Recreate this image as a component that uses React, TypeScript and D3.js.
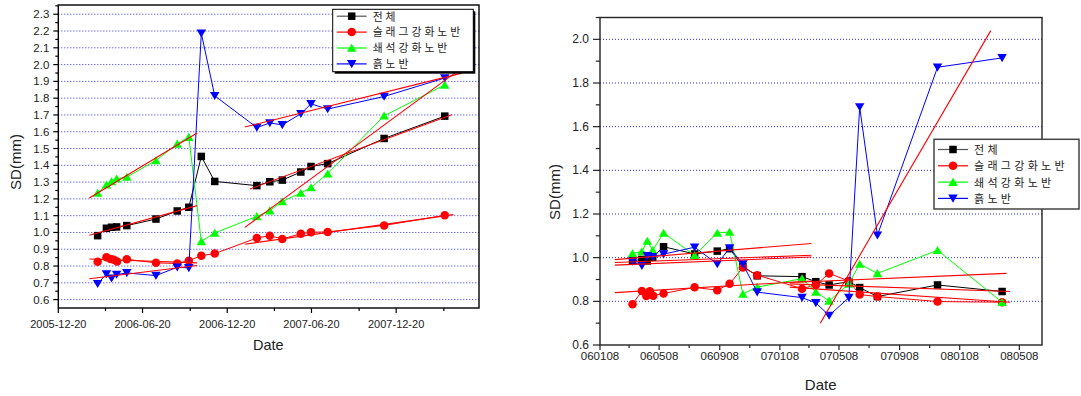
import { useEffect, useRef } from "react";
import * as d3 from "d3";

// Series (legend order)
const seriesNames = ["전체", "슬래그강화노반", "쇄석강화노반", "흙노반"];
const seriesColors = ["#000000", "#ff0000", "#00ff00", "#0000ff"];
const seriesShapes = ["square", "circle", "up", "down"];
const markerSizes = [7.5, 8.5, 9.5, 9.5];

// Survey dates (shared), slag series has one extra April reading
const dates = [
    "2006-03-15", "2006-04-03", "2006-04-14", "2006-04-25", "2006-05-17", "2006-07-19",
    "2006-09-03", "2006-09-28", "2006-10-25", "2006-11-23", "2007-02-22", "2007-03-22",
    "2007-04-18", "2007-05-28", "2007-06-19", "2007-07-25", "2007-11-24", "2008-04-03",
];
const slagDates = [
    "2006-03-15", "2006-04-03", "2006-04-12", "2006-04-19", "2006-04-26", "2006-05-17",
    "2006-07-19", "2006-09-03", "2006-09-28", "2006-10-25", "2006-11-23", "2007-02-22",
    "2007-03-22", "2007-04-18", "2007-05-28", "2007-06-19", "2007-07-25", "2007-11-24", "2008-04-03",
];

// Left chart values
const leftTotal = [0.981, 1.025, 1.031, 1.033, 1.041, 1.08, 1.128, 1.15, 1.453, 1.304, 1.279, 1.302, 1.312, 1.36, 1.393, 1.41, 1.56, 1.693];
const leftSlag = [0.825, 0.852, 0.842, 0.837, 0.827, 0.84, 0.819, 0.815, 0.832, 0.862, 0.874, 0.967, 0.981, 0.961, 0.993, 1.001, 1.003, 1.042, 1.102];
const leftCrushed = [1.235, 1.284, 1.304, 1.32, 1.33, 1.429, 1.528, 1.568, 0.947, 0.997, 1.096, 1.13, 1.185, 1.235, 1.268, 1.35, 1.695, 1.879];
const leftSoil = [0.694, 0.752, 0.727, 0.749, 0.759, 0.743, 0.793, 0.789, 2.187, 1.814, 1.625, 1.652, 1.641, 1.707, 1.766, 1.735, 1.81, 1.92];

// Right chart values
const rightTotal = [0.986, 0.992, 0.985, 1.002, 1.05, 1.017, 1.03, 1.041, 0.96, 0.917, 0.913, 0.89, 0.875, 0.89, 0.863, 0.822, 0.875, 0.845];
const rightSlag = [0.787, 0.847, 0.824, 0.846, 0.826, 0.836, 0.864, 0.851, 0.88, 0.955, 0.92, 0.858, 0.875, 0.928, 0.893, 0.831, 0.822, 0.799, 0.796];
const rightCrushed = [1.02, 1.028, 1.076, 1.034, 1.113, 1.011, 1.113, 1.118, 0.834, 0.865, 0.904, 0.843, 0.802, 0.88, 0.971, 0.928, 1.034, 0.796];
const rightSoil = [0.983, 0.963, 1.008, 1.004, 1.016, 1.048, 0.971, 1.044, 0.971, 0.842, 0.817, 0.793, 0.735, 0.817, 1.69, 1.103, 1.872, 1.915];

// Linear fit segments: [start date, start value, end date, end value]
const leftFits: [ string, number, string, number ][] = [
    [ "2006-02-25", 1.205, "2006-10-16", 1.592 ],
    [ "2006-02-25", 0.983, "2006-10-16", 1.16 ],
    [ "2006-02-25", 0.842, "2006-10-16", 0.819 ],
    [ "2006-02-25", 0.724, "2006-10-16", 0.803 ],
    [ "2007-01-27", 1.628, "2008-05-10", 1.949 ],
    [ "2007-02-07", 1.259, "2008-04-18", 1.701 ],
    [ "2007-01-27", 1.03, "2008-04-29", 1.958 ],
    [ "2007-01-27", 0.93, "2008-04-22", 1.106 ],
];
const rightFits: [ string, number, string, number ][] = [
    [ "2006-02-07", 0.991, "2007-03-13", 1.065 ],
    [ "2006-02-07", 0.978, "2007-03-13", 1.011 ],
    [ "2006-02-07", 0.966, "2007-03-13", 1.003 ],
    [ "2006-02-07", 0.84, "2007-03-13", 0.893 ],
    [ "2007-01-28", 0.886, "2008-04-12", 0.928 ],
    [ "2007-01-28", 0.88, "2008-04-19", 0.845 ],
    [ "2007-01-28", 0.865, "2008-04-19", 0.796 ],
    [ "2007-03-31", 0.70, "2008-03-11", 2.04 ],
];

// Axis ticks
const leftXTicks = [ "2005-12-20", "2006-06-20", "2006-12-20", "2007-06-20", "2007-12-20" ];
const leftXMinor = [ "2006-04-01", "2006-10-01", "2007-04-01", "2007-10-01", "2008-04-01" ];
const leftYTicks = [ 0.6, 0.7, 0.8, 0.9, 1.0, 1.1, 1.2, 1.3, 1.4, 1.5, 1.6, 1.7, 1.8, 1.9, 2.0, 2.1, 2.2, 2.3 ];
const rightXTicks = [ "2006-01-08", "2006-05-08", "2006-09-08", "2007-01-08", "2007-05-08", "2007-09-08", "2008-01-08", "2008-05-08" ];
const rightXMinor = [ "2006-03-08", "2006-07-08", "2006-11-08", "2007-03-08", "2007-07-08", "2007-11-08", "2008-03-08" ];
const rightYTicks = [ 0.6, 0.8, 1.0, 1.2, 1.4, 1.6, 1.8, 2.0 ];

const parse = d3.timeParse( "%Y-%m-%d" );
const pd = ( s: string ) => parse( s ) as Date;
const LATIN = "'Liberation Sans', Arial, sans-serif";
const KR = "'Noto Sans CJK KR', 'Noto Sans', sans-serif";

function markerPath ( shape: string, s: number )
{
    const h = s / 2;
    if ( shape === "square" ) return `M${ -h },${ -h }H${ h }V${ h }H${ -h }Z`;
    if ( shape === "circle" ) return `M${ h },0A${ h },${ h } 0 1,1 ${ -h },0A${ h },${ h } 0 1,1 ${ h },0Z`;
    if ( shape === "up" ) return `M0,${ -h * 0.9 }L${ h },${ h * 0.8 }L${ -h },${ h * 0.8 }Z`;
    return `M0,${ h * 0.9 }L${ h },${ -h * 0.8 }L${ -h },${ -h * 0.8 }Z`;
}

interface ChartCfg
{
    box: { left: number; right: number; top: number; bottom: number };
    xDomain: [ string, string ];
    yDomain: [ number, number ];
    xTicks: string[];
    xMinor: string[];
    xFmt: ( d: Date ) => string;
    xFont: number;
    xLabelY: number;
    yTicks: number[];
    yMinor: number[];
    grid: number[];
    yFont: number;
    yMajorLen: number;
    frameColor: string;
    series: { dates: string[]; values: number[] }[];
    fits: [ string, number, string, number ][];
    yTitle: { x: number; y: number; size: number };
    xTitle: { x: number; y: number; size: number };
    legend: { x: number; y: number; w: number; h: number; row0: number; step: number; font: number; spacing: number; shadow: boolean };
}

function drawChart ( svg: d3.Selection<SVGSVGElement, unknown, null, undefined>, c: ChartCfg )
{
    const { left, right, top, bottom } = c.box;
    const x = d3.scaleTime().domain( c.xDomain.map( pd ) ).range( [ left, right ] );
    const y = d3.scaleLinear().domain( c.yDomain ).range( [ bottom, top ] );
    const g = svg.append( "g" );

    // Grid
    g.append( "g" ).selectAll( "line" ).data( c.grid ).join( "line" )
        .attr( "x1", left ).attr( "x2", right )
        .attr( "y1", ( d ) => y( d ) ).attr( "y2", ( d ) => y( d ) )
        .attr( "stroke", "#2a2aff" ).attr( "stroke-width", 1 ).attr( "stroke-dasharray", "1,2" );

    // Series
    c.series.forEach( ( s, i ) =>
    {
        const pts: [ number, number ][] = s.values.map( ( v, j ) => [ x( pd( s.dates[ j ] ) ), y( v ) ] );
        g.append( "path" ).attr( "d", d3.line()( pts ) ).attr( "fill", "none" )
            .attr( "stroke", seriesColors[ i ] ).attr( "stroke-width", 1 );
        g.append( "g" ).selectAll( "path" ).data( pts ).join( "path" )
            .attr( "transform", ( d ) => `translate(${ d[ 0 ] },${ d[ 1 ] })` )
            .attr( "d", markerPath( seriesShapes[ i ], markerSizes[ i ] ) )
            .attr( "fill", seriesColors[ i ] );
    } );

    // Fit lines
    g.append( "g" ).selectAll( "line" ).data( c.fits ).join( "line" )
        .attr( "x1", ( d ) => x( pd( d[ 0 ] ) ) ).attr( "y1", ( d ) => y( d[ 1 ] ) )
        .attr( "x2", ( d ) => x( pd( d[ 2 ] ) ) ).attr( "y2", ( d ) => y( d[ 3 ] ) )
        .attr( "stroke", "#ff0000" ).attr( "stroke-width", 1.1 );

    // Frame
    g.append( "rect" ).attr( "x", left ).attr( "y", top ).attr( "width", right - left ).attr( "height", bottom - top )
        .attr( "fill", "none" ).attr( "stroke", c.frameColor ).attr( "stroke-width", 1.4 );

    // Axis ticks
    const ax = g.append( "g" ).attr( "stroke", c.frameColor ).attr( "stroke-width", 1.2 );
    ax.selectAll( ".xM" ).data( c.xTicks ).join( "line" )
        .attr( "x1", ( d ) => x( pd( d ) ) ).attr( "x2", ( d ) => x( pd( d ) ) )
        .attr( "y1", bottom ).attr( "y2", bottom + 5 );
    ax.selectAll( ".xm" ).data( c.xMinor ).join( "line" )
        .attr( "x1", ( d ) => x( pd( d ) ) ).attr( "x2", ( d ) => x( pd( d ) ) )
        .attr( "y1", bottom ).attr( "y2", bottom + 3 );
    ax.selectAll( ".yM" ).data( c.yTicks ).join( "line" )
        .attr( "x1", left - c.yMajorLen ).attr( "x2", left )
        .attr( "y1", ( d ) => y( d ) ).attr( "y2", ( d ) => y( d ) );
    ax.selectAll( ".ym" ).data( c.yMinor ).join( "line" )
        .attr( "x1", left - c.yMajorLen * 0.6 ).attr( "x2", left )
        .attr( "y1", ( d ) => y( d ) ).attr( "y2", ( d ) => y( d ) );

    g.append( "g" ).selectAll( "text" ).data( c.xTicks ).join( "text" )
        .attr( "x", ( d ) => x( pd( d ) ) ).attr( "y", c.xLabelY )
        .attr( "text-anchor", "middle" ).attr( "fill", "#222" )
        .style( "font-size", `${ c.xFont }px` ).style( "font-family", LATIN )
        .text( ( d ) => c.xFmt( pd( d ) ) );
    g.append( "g" ).selectAll( "text" ).data( c.yTicks ).join( "text" )
        .attr( "x", left - c.yMajorLen - 4 ).attr( "y", ( d ) => y( d ) + 4 )
        .attr( "text-anchor", "end" ).attr( "fill", "#222" )
        .style( "font-size", `${ c.yFont }px` ).style( "font-family", LATIN )
        .text( ( d ) => d3.format( ".1f" )( d ) );

    // Titles
    g.append( "text" ).attr( "transform", `translate(${ c.yTitle.x },${ c.yTitle.y }) rotate(-90)` )
        .attr( "text-anchor", "middle" ).attr( "dominant-baseline", "central" ).attr( "fill", "#222" )
        .style( "font-size", `${ c.yTitle.size }px` ).style( "font-family", LATIN ).text( "SD(mm)" );
    g.append( "text" ).attr( "x", c.xTitle.x ).attr( "y", c.xTitle.y )
        .attr( "text-anchor", "middle" ).attr( "fill", "#222" )
        .style( "font-size", `${ c.xTitle.size }px` ).style( "font-family", LATIN ).text( "Date" );

    // Legend
    const L = c.legend;
    const lg = g.append( "g" );
    if ( L.shadow )
        lg.append( "rect" ).attr( "x", L.x + 2 ).attr( "y", L.y + 2 ).attr( "width", L.w ).attr( "height", L.h ).attr( "fill", "#000" );
    lg.append( "rect" ).attr( "x", L.x ).attr( "y", L.y ).attr( "width", L.w ).attr( "height", L.h )
        .attr( "fill", "#fff" ).attr( "stroke", L.shadow ? "#000" : "#444" ).attr( "stroke-width", L.shadow ? 1 : 1.5 );
    seriesNames.forEach( ( name, i ) =>
    {
        const cy = L.row0 + i * L.step;
        lg.append( "line" ).attr( "x1", L.x + 4 ).attr( "x2", L.x + 34 ).attr( "y1", cy ).attr( "y2", cy )
            .attr( "stroke", i === 0 ? "#555" : seriesColors[ i ] ).attr( "stroke-width", 1.2 );
        lg.append( "path" ).attr( "transform", `translate(${ L.x + 19 },${ cy })` )
            .attr( "d", markerPath( seriesShapes[ i ], markerSizes[ i ] ) ).attr( "fill", seriesColors[ i ] );
        lg.append( "text" ).attr( "x", L.x + 40 ).attr( "y", cy + L.font * 0.4 )
            .attr( "fill", "#222" ).style( "font-size", `${ L.font }px` ).style( "font-family", KR )
            .style( "letter-spacing", `${ L.spacing }px` ).text( name );
    } );
}

const midpoints = ( t: number[] ) => t.slice( 1 ).map( ( v, i ) => ( v + t[ i ] ) / 2 );

export default function App ()
{
    const svgRef = useRef<SVGSVGElement>( null );

    useEffect( () =>
    {
        if ( !svgRef.current ) return;
        const svg = d3.select( svgRef.current );
        svg.selectAll( "*" ).remove();

        drawChart( svg, {
            box: { left: 58.3, right: 479, top: 5, bottom: 308 },
            xDomain: [ "2005-12-20", "2008-06-16" ],
            yDomain: [ 0.55, 2.355 ],
            xTicks: leftXTicks, xMinor: leftXMinor,
            xFmt: d3.timeFormat( "%Y-%m-%d" ), xFont: 11, xLabelY: 328,
            yTicks: leftYTicks, yMinor: [ ...midpoints( leftYTicks ), 2.35 ], grid: leftYTicks,
            yFont: 11.5, yMajorLen: 5, frameColor: "#000",
            series: [
                { dates, values: leftTotal },
                { dates: slagDates, values: leftSlag },
                { dates, values: leftCrushed },
                { dates, values: leftSoil },
            ],
            fits: leftFits,
            yTitle: { x: 15.5, y: 162, size: 15 },
            xTitle: { x: 268.3, y: 350, size: 14.5 },
            legend: { x: 332.7, y: 9.3, w: 140.6, h: 62.4, row0: 16.2, step: 15.9, font: 10.8, spacing: 3, shadow: true },
        } );

        drawChart( svg, {
            box: { left: 600, right: 1042, top: 17.5, bottom: 345 },
            xDomain: [ "2006-01-08", "2008-06-23" ],
            yDomain: [ 0.6, 2.1 ],
            xTicks: rightXTicks, xMinor: rightXMinor,
            xFmt: d3.timeFormat( "%y%m%d" ), xFont: 11.5, xLabelY: 359.5,
            yTicks: rightYTicks, yMinor: [ ...midpoints( rightYTicks ), 2.1 ], grid: rightYTicks.slice( 1 ),
            yFont: 12, yMajorLen: 7, frameColor: "#222",
            series: [
                { dates, values: rightTotal },
                { dates: slagDates, values: rightSlag },
                { dates, values: rightCrushed },
                { dates, values: rightSoil },
            ],
            fits: rightFits,
            yTitle: { x: 554, y: 192, size: 15 },
            xTitle: { x: 820.7, y: 390, size: 15 },
            legend: { x: 934, y: 139.3, w: 145, h: 69.7, row0: 149.5, step: 16.3, font: 11, spacing: 3.3, shadow: false },
        } );
    }, [] );

    return (
        <svg ref={ svgRef } width={ 1081 } height={ 396 }
            style={ { position: "absolute", left: 0, top: 0, background: "#fff" } } />
    );
}
